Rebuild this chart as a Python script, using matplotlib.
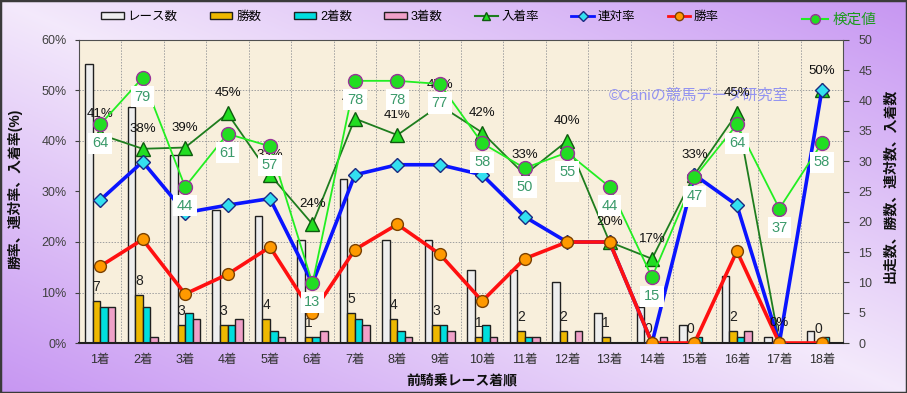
import matplotlib
matplotlib.use("Agg")
import matplotlib.pyplot as plt
import numpy as np
from matplotlib.lines import Line2D
from matplotlib.patches import Patch, Rectangle

plt.rcParams["font.family"] = ["Liberation Sans", "Noto Sans CJK JP", "DejaVu Sans"]

# data
places = ["1着", "2着", "3着", "4着", "5着", "6着", "7着", "8着", "9着",
          "10着", "11着", "12着", "13着", "14着", "15着", "16着", "17着", "18着"]
races = [46, 39, 31, 22, 21, 17, 27, 17, 17, 12, 12, 10, 5, 6, 3, 11, 1, 2]
wins = [7, 8, 3, 3, 4, 1, 5, 4, 3, 1, 2, 2, 1, 0, 0, 2, 0, 0]
seconds = [6, 6, 5, 3, 2, 1, 4, 2, 3, 3, 1, 0, 0, 0, 1, 1, 0, 1]
thirds = [6, 1, 4, 4, 1, 2, 3, 1, 2, 1, 1, 2, 0, 1, 0, 2, 0, 0]
place_rate = [41.30, 38.46, 38.71, 45.45, 33.33, 23.53, 44.44, 41.18, 47.06,
              41.67, 33.33, 40.00, 20.00, 16.67, 33.33, 45.45, 0.00, 50.00]
rentai_rate = [28.3, 35.9, 25.8, 27.3, 28.6, 11.8, 33.3, 35.3, 35.3,
               33.3, 25.0, 20.0, 20.0, 0.0, 33.3, 27.3, 0.0, 50.0]
win_rate = [15.2, 20.5, 9.7, 13.6, 19.0, 5.9, 18.5, 23.5, 17.6,
            8.3, 16.7, 20.0, 20.0, 0.0, 0.0, 18.2, 0.0, 0.0]
kentei = [64, 79, 44, 61, 57, 13, 78, 78, 77, 58, 50, 55, 44, 15, 47, 64, 37, 58]

x = np.arange(1, len(places) + 1)

fig = plt.figure(figsize=(9.07, 3.93), dpi=100)

# lavender diagonal gradient background
yy, xx = np.mgrid[0:1:200j, 0:1:400j]
u = np.abs(xx - yy)[..., None]
light = np.array([0.955, 0.915, 0.985])
purple = np.array([0.78, 0.59, 0.95])
bg = fig.add_axes([0, 0, 1, 1], zorder=-10)
bg.imshow(light + (purple - light) * u, aspect="auto", extent=(0, 1, 0, 1))
bg.axis("off")
fig.add_artist(Rectangle((0, 0), 1, 1, transform=fig.transFigure, fill=False,
                         edgecolor="#3a3a3a", linewidth=2.5))

# counts axis (right), holds bars
ax = fig.add_axes([79 / 907, 50 / 393, 764 / 907, 303 / 393])
axr = ax.twinx()   # rate axis (left)
axk = ax.twinx()   # hidden scale for 検定値
ax.yaxis.tick_right()
ax.yaxis.set_label_position("right")

ax.set_facecolor("#f8efdc")
ax.set_xlim(0.5, 18.5)
ax.set_ylim(0, 50)
ax.set_yticks(np.arange(0, 51, 5))
ax.set_xticks(x)
ax.set_xticklabels(places)
ax.set_xticks(np.arange(1.5, 18.5, 1), minor=True)
ax.set_yticks(np.linspace(0, 50, 7), minor=True)
ax.grid(which="minor", color="#a0a0a0", linestyle=(0, (1.5, 1.5)), linewidth=0.7)
ax.set_axisbelow(True)
ax.tick_params(which="minor", length=0)
ax.tick_params(axis="x", length=0, pad=8, labelsize=9, labelcolor="#303030")
ax.tick_params(axis="y", length=4, pad=7, labelsize=9, labelcolor="#404040",
               color="#404040")
for s in ax.spines.values():
    s.set_color("#505050")
ax.spines["bottom"].set_color("#202020")
ax.spines["bottom"].set_linewidth(1.5)

w = 0.178
bar_specs = [
    (races, "#eeeeee", -1.5),
    (wins, "#eeb800", -0.5),
    (seconds, "#00dede", 0.5),
    (thirds, "#f0a0c8", 1.5),
]
for vals, col, off in bar_specs:
    ax.bar(x + off * w, vals, width=w, color=col, edgecolor="#202020", linewidth=1, zorder=2)

for xi, v in zip(x, wins):
    ax.annotate(str(v), (xi - 0.5 * w, v), xytext=(0, 14), textcoords="offset pixels",
                ha="center", va="center", fontsize=10, color="#202020", zorder=3)

ax.text(0.811, 0.815, "©Caniの競馬データ研究室", transform=ax.transAxes,
        color="#9494f0", fontsize=11, ha="center", va="center", zorder=1)

axr.yaxis.tick_left()
axr.set_ylim(0, 60)
axr.set_yticks(np.arange(0, 61, 10))
axr.set_yticklabels([f"{t}%" for t in range(0, 61, 10)])
axr.tick_params(axis="y", length=3, pad=6, labelsize=9, labelcolor="#404040",
                color="#404040")
for s in axr.spines.values():
    s.set_visible(False)

axr.plot(x, place_rate, color="#1e7d1e", linewidth=1.3, marker="^", markersize=10,
         markerfacecolor="#22dd22", markeredgecolor="#0f5a0f", zorder=3)
axr.plot(x, rentai_rate, color="#0a14ff", linewidth=2.6, marker="D", markersize=7,
         markerfacecolor="#33e0f0", markeredgecolor="#1a2a80", zorder=4)
axr.plot(x, win_rate, color="#ff1010", linewidth=2.6, marker="o", markersize=8.5,
         markerfacecolor="#ff9900", markeredgecolor="#7a4000", zorder=5)
for xi, v in zip(x, place_rate):
    axr.annotate(f"{v:.0f}%", (xi, v), xytext=(0, 20), textcoords="offset pixels",
                 ha="center", va="center", fontsize=9.5, color="#101010", zorder=6)

axk.set_ylim(-6.1, 91.1)
axk.axis("off")
axk.plot(x, kentei, color="#22ee22", linewidth=1.3, marker="o", markersize=10,
         markerfacecolor="#22dd22", markeredgecolor="#993399", zorder=3)
for xi, v in zip(x, kentei):
    axk.annotate(str(v), (xi, v), xytext=(0, -19), textcoords="offset pixels",
                 ha="center", va="center", fontsize=10.5, color="#3a9a6a", zorder=6,
                 bbox=dict(boxstyle="square,pad=0.25", facecolor="white", edgecolor="none"))

fig.text(15 / 907, 1 - 189 / 393, "勝率、連対率、入着率(%)", rotation=90,
         ha="center", va="center", fontsize=10, color="#101010", fontweight="bold")
fig.text(890 / 907, 1 - 186 / 393, "出走数、勝数、連対数、入着数", rotation=90,
         ha="center", va="center", fontsize=10, color="#101010", fontweight="bold")
fig.text(462 / 907, 1 - 380 / 393, "前騎乗レース着順", ha="center", va="center",
         fontsize=10, color="#101010", fontweight="bold")

handles = [
    Patch(facecolor="#eeeeee", edgecolor="#202020"),
    Patch(facecolor="#eeb800", edgecolor="#202020"),
    Patch(facecolor="#00dede", edgecolor="#202020"),
    Patch(facecolor="#f0a0c8", edgecolor="#202020"),
    Line2D([], [], color="#1e7d1e", marker="^", markersize=6,
           markerfacecolor="#22dd22", markeredgecolor="#0f5a0f"),
    Line2D([], [], color="#0a14ff", linewidth=2, marker="D", markersize=5,
           markerfacecolor="#33e0f0", markeredgecolor="#1a2a80"),
    Line2D([], [], color="#ff1010", linewidth=2, marker="o", markersize=6,
           markerfacecolor="#ff9900", markeredgecolor="#7a4000"),
]
labels = ["レース数", "勝数", "2着数", "3着数", "入着率", "連対率", "勝率"]
fig.legend(handles, labels, loc="center", bbox_to_anchor=(0.452, 0.957), ncol=7,
           frameon=False, fontsize=9, handlelength=1.8, handleheight=0.6,
           handletextpad=0.3, columnspacing=2.6)
fig.legend([Line2D([], [], color="#22ee22", marker="o", markersize=7,
                   markerfacecolor="#22dd22", markeredgecolor="#993399")],
           ["検定値"], loc="center", bbox_to_anchor=(0.925, 0.949), frameon=False,
           fontsize=10.5, labelcolor="#1a9a1a", handlelength=1.8, handletextpad=0.3)

fig.savefig("out.png", dpi=100)
